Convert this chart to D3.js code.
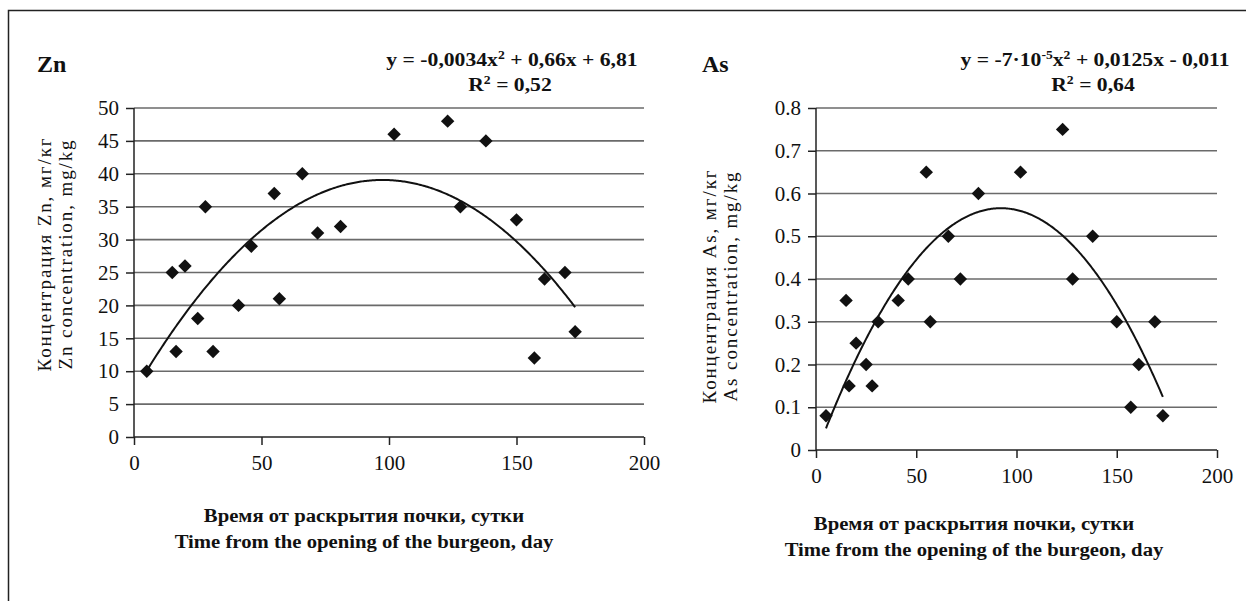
<!DOCTYPE html>
<html>
<head>
<meta charset="utf-8">
<script src="https://cdn.jsdelivr.net/npm/d3@7"></script>
<style>
  body { margin: 0; background: #fff; }
  text { font-family: "Liberation Serif", "DejaVu Serif", serif; fill: #111; }
</style>
</head>
<body>
<div id="chart"></div>
<script>
// days after bud opening (same sampling for both elements)
const days = [5, 15, 16.5, 20, 25, 28, 31, 41, 46, 55, 57, 66, 72, 81, 102, 123, 128, 138, 150, 157, 161, 169, 173];
const znValues = [10, 25, 13, 26, 18, 35, 13, 20, 29, 37, 21, 40, 31, 32, 46, 48, 35, 45, 33, 12, 24, 25, 16];
const asValues = [0.08, 0.35, 0.15, 0.25, 0.20, 0.15, 0.30, 0.35, 0.40, 0.65, 0.30, 0.50, 0.40, 0.60, 0.65, 0.75, 0.40, 0.50, 0.30, 0.10, 0.20, 0.30, 0.08];

const xTicks = [0, 50, 100, 150, 200];
const znTicks = [0, 5, 10, 15, 20, 25, 30, 35, 40, 45, 50];
const asTicks = [0, 0.1, 0.2, 0.3, 0.4, 0.5, 0.6, 0.7, 0.8];

const xTitle = ["Время от раскрытия почки, сутки", "Time from the opening of the burgeon, day"];

const W = 1246, H = 601;

let svg = d3.select("#chart").append("svg")
    .attr("width", W)
    .attr("height", H);

// frame (only top and left edges are visible in the picture)
svg.append("path")
    .attr("d", "M8.5," + H + "V10.5H" + W)
    .attr("fill", "none")
    .attr("stroke", "#222")
    .attr("stroke-width", 1.5);

// least squares fit y = a x^2 + b x + c
function quadFit(xs, ys) {
    let s = [0, 0, 0, 0, 0], t = [0, 0, 0];
    xs.forEach((x, i) => {
        for (let k = 0; k < 5; k++) s[k] += Math.pow(x, k);
        for (let k = 0; k < 3; k++) t[k] += ys[i] * Math.pow(x, k);
    });
    // matrix for [c, b, a]
    let m = [
        [s[0], s[1], s[2], t[0]],
        [s[1], s[2], s[3], t[1]],
        [s[2], s[3], s[4], t[2]]
    ];
    for (let i = 0; i < 3; i++) {
        for (let j = i + 1; j < 3; j++) {
            let f = m[j][i] / m[i][i];
            for (let k = i; k < 4; k++) m[j][k] -= f * m[i][k];
        }
    }
    let r = [0, 0, 0];
    for (let i = 2; i >= 0; i--) {
        let v = m[i][3];
        for (let k = i + 1; k < 3; k++) v -= m[i][k] * r[k];
        r[i] = v / m[i][i];
    }
    return { c: r[0], b: r[1], a: r[2] };
}

// text that is a bit wider than the font (the scan is stretched sideways)
function wideText(parent, x, y, sx) {
    return parent.append("g")
        .attr("transform", "translate(" + x + "," + y + ") scale(" + sx + ",1)")
        .append("text")
        .attr("text-anchor", "middle");
}

function drawPanel(opt) {
    let g = svg.append("g");

    let scaleX = d3.scaleLinear().domain([0, 200]).range([opt.left, opt.right]);
    let scaleY = d3.scaleLinear().domain([0, opt.yMax]).range([opt.bottom, opt.top]);

    //=================================================
    // grid
    //=================================================
    g.append("g")
        .selectAll("line")
        .data(opt.yTicks.filter(d => d > 0))
        .join("line")
        .attr("x1", opt.left)
        .attr("x2", opt.right)
        .attr("y1", d => scaleY(d))
        .attr("y2", d => scaleY(d))
        .attr("stroke", "#6a6a6a")
        .attr("stroke-width", 1.6);

    //=================================================
    // axes
    //=================================================
    let axisY = g.append("g")
        .attr("transform", "translate(" + opt.left + ",0)")
        .call(d3.axisLeft(scaleY).tickValues(opt.yTicks).tickFormat(opt.fmt).tickSize(8).tickPadding(7));
    let axisX = g.append("g")
        .attr("transform", "translate(0," + opt.bottom + ")")
        .call(d3.axisBottom(scaleX).tickValues(xTicks).tickFormat(d3.format("d")).tickSize(8).tickPadding(10));

    [axisX, axisY].forEach(a => {
        a.select(".domain").attr("stroke", "#222").attr("stroke-width", 1.5);
        a.selectAll(".tick line").attr("stroke", "#222").attr("stroke-width", 1.5);
        a.selectAll(".tick text")
            .attr("font-size", 21)
            .attr("fill", "#111");
    });
    axisY.select(".domain").attr("d", "M0," + opt.bottom + "V" + opt.top);
    axisX.select(".domain").attr("d", "M" + opt.left + ",0H" + opt.right);

    //=================================================
    // trend line
    //=================================================
    let fit = quadFit(days, opt.values);
    let xs = d3.range(d3.min(days), d3.max(days) + 0.01, 0.5);
    let line = d3.line()
        .x(d => scaleX(d))
        .y(d => scaleY(fit.a * d * d + fit.b * d + fit.c));
    g.append("path")
        .datum(xs)
        .attr("d", line)
        .attr("fill", "none")
        .attr("stroke", "#111")
        .attr("stroke-width", 2);

    //=================================================
    // points
    //=================================================
    let diamond = d3.symbol().type(d3.symbolSquare).size(90);
    g.append("g")
        .selectAll("path")
        .data(days.map((d, i) => ({ x: d, y: opt.values[i] })))
        .join("path")
        .attr("d", diamond)
        .attr("transform", d => "translate(" + scaleX(d.x) + "," + scaleY(d.y) + ") rotate(45)")
        .attr("fill", "#111");

    //=================================================
    // texts
    //=================================================
    g.append("text")
        .attr("x", opt.nameX)
        .attr("y", 72)
        .attr("font-size", 24)
        .attr("font-weight", "bold")
        .text(opt.name);

    let eq = wideText(g, opt.eqX, 66, 1.14)
        .attr("font-size", 19)
        .attr("font-weight", "bold");
    opt.equation.forEach(p => {
        eq.append("tspan")
            .attr("baseline-shift", p.sup ? "super" : null)
            .attr("font-size", p.sup ? 12 : null)
            .text(p.t);
    });
    let r2 = wideText(g, opt.eqX - 2, 91, 1.14)
        .attr("font-size", 19)
        .attr("font-weight", "bold");
    r2.append("tspan").text("R");
    r2.append("tspan").attr("baseline-shift", "super").attr("font-size", 12).text("2");
    r2.append("tspan").text(" = " + opt.r2);

    xTitle.forEach((s, i) => {
        wideText(g, opt.xTitleX, opt.xTitleY + i * 26, 1.09)
            .attr("font-size", 19)
            .attr("font-weight", "bold")
            .text(s);
    });

    let yt = g.append("text")
        .attr("transform", "translate(" + opt.yTitleX + "," + opt.yTitleY + ") rotate(-90)")
        .attr("text-anchor", "middle")
        .attr("font-size", 19)
        .attr("letter-spacing", 1.9);
    opt.yTitle.forEach((s, i) => {
        yt.append("tspan")
            .attr("x", 0)
            .attr("y", i * opt.yTitleGap)
            .text(s);
    });
}

drawPanel({
    name: "Zn",
    values: znValues,
    yMax: 50,
    yTicks: znTicks,
    fmt: d3.format("d"),
    left: 134, right: 644, top: 108, bottom: 437,
    nameX: 37,
    eqX: 512,
    equation: [{ t: "y = -0,0034x" }, { t: "2", sup: true }, { t: " + 0,66x + 6,81" }],
    r2: "0,52",
    xTitleX: 364, xTitleY: 522,
    yTitleX: 51, yTitleY: 254,
    yTitleGap: 21,
    yTitle: ["Концентрация Zn, мг/кг", "Zn concentration, mg/kg"]
});

drawPanel({
    name: "As",
    values: asValues,
    yMax: 0.8,
    yTicks: asTicks,
    fmt: d => d === 0 ? "0" : d3.format(".1f")(d),
    left: 816, right: 1217, top: 108, bottom: 450,
    nameX: 702,
    eqX: 1095,
    equation: [{ t: "y = -7·10" }, { t: "-5", sup: true }, { t: "x" }, { t: "2", sup: true }, { t: " + 0,0125x - 0,011" }],
    r2: "0,64",
    xTitleX: 974, xTitleY: 530,
    yTitleX: 716, yTitleY: 286,
    yTitleGap: 21,
    yTitle: ["Концентрация As, мг/кг", "As concentration, mg/kg"]
});
</script>
</body>
</html>
